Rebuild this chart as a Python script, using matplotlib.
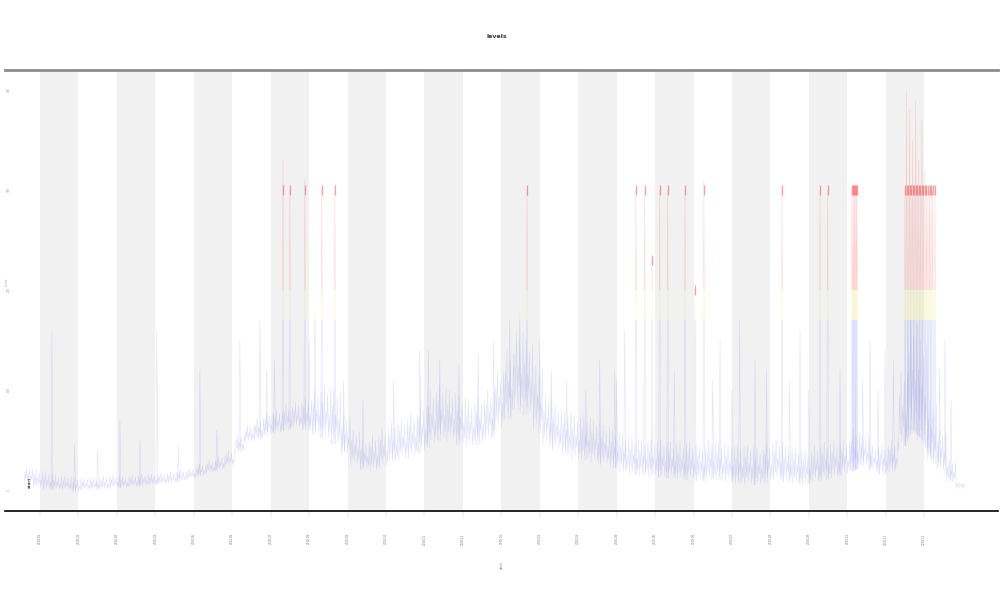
import numpy as np
import matplotlib
matplotlib.use("Agg")
import matplotlib.pyplot as plt
from matplotlib.patches import Rectangle
from matplotlib.collections import LineCollection

# ---------------- data ----------------
title = "levels"
x_label = "date"
y_label = "level"
tick_labels = ["2018-01", "2018-02", "2018-03", "2018-04", "2018-05", "2018-06",
               "2018-07", "2018-08", "2018-09", "2018-10", "2018-11", "2018-12",
               "2019-01", "2019-02", "2019-03", "2019-04", "2019-05", "2019-06",
               "2019-07", "2019-08", "2019-09", "2019-10", "2019-11", "2019-12"]
y_ticks = [0, 100, 200, 300, 400]
start_note = "start"

# envelope of the dense series, one bin every 0.25 tick unit from x = -0.3
bin_start = -0.3
bin_step = 0.25
low = [8, 2, 0, 0, 0, -2, 0, 0, 0, 2, 2, 3, 4, 5, 6, 7, 9, 11, 14, 17,
       20, 24, 38, 48, 50, 55, 57, 60, 62, 60, 55, 50, 45, 35, 25, 20, 18, 22, 28, 30,
       32, 38, 45, 50, 48, 45, 42, 45, 50, 60, 70, 80, 75, 60, 45, 40, 35, 30, 30, 28,
       25, 22, 18, 15, 15, 14, 12, 12, 10, 10, 8, 10, 10, 8, 6, 5, 5, 8, 10, 8,
       6, 5, 8, 10, 12, 15, 20, 25, 18, 15, 18, 40, 60, 50, 30, 20, 8, 2]
high = [22, 20, 18, 15, 14, 12, 12, 12, 14, 15, 14, 15, 16, 16, 17, 18, 20, 22, 26, 30,
        34, 40, 55, 65, 72, 78, 80, 85, 88, 92, 100, 105, 100, 75, 60, 50, 55, 62, 68, 72,
        78, 88, 100, 105, 100, 95, 90, 92, 100, 120, 140, 160, 150, 125, 95, 85, 80, 75, 75, 70,
        65, 60, 55, 52, 50, 50, 50, 48, 48, 48, 45, 50, 48, 45, 45, 45, 42, 48, 50, 45,
        42, 40, 45, 48, 50, 50, 60, 55, 45, 45, 50, 120, 170, 150, 90, 60, 30, 8]

# tall spikes (positions in tick units, peak values)
spike_x = [0.31, 2.08, 3.04, 4.16, 5.20, 5.72, 6.32, 6.50, 6.89, 7.15, 7.33, 7.67,
           9.88, 10.40, 12.22, 12.48, 12.67, 13.00, 14.56, 14.95, 15.21, 15.50, 15.73,
           15.92, 16.12, 16.33, 16.78, 17.04, 17.27, 17.69, 18.20, 18.60, 19.30, 19.77,
           20.29, 20.49, 20.81, 21.12, 21.15, 21.18, 21.20, 21.23, 21.25, 21.59, 21.98,
           22.50, 22.54, 22.58, 22.62, 22.66, 22.70, 22.74, 22.78, 22.82, 22.86, 22.90,
           22.94, 22.98, 23.02, 23.06, 23.10, 23.14, 23.18, 23.22, 23.28, 23.54]
spike_peak = [160, 70, 160, 120, 150, 170, 330, 300, 310, 180, 300, 300,
              140, 130, 170, 180, 300, 150, 130, 120, 160, 300, 300,
              230, 300, 300, 300, 200, 310, 150, 170, 130, 300, 160,
              300, 300, 120, 300, 305, 305, 305, 300, 300, 150, 140,
              300, 400, 300, 380, 300, 350, 300, 390, 300, 330, 300,
              370, 300, 320, 300, 300, 300, 300, 300, 300, 150]

# smaller, fainter spikes seen in the haze
minor_x = [0.9, 1.5, 2.6, 3.6, 4.6, 5.9, 6.1, 7.0, 7.9, 8.4, 9.2, 10.1, 10.9, 11.4,
           11.8, 13.3, 13.7, 14.2, 15.0, 16.5, 17.5, 18.0, 18.9, 19.5, 20.0, 21.4,
           21.8, 22.2, 23.4, 23.7]
minor_peak = [45, 40, 50, 45, 60, 120, 130, 150, 110, 90, 110, 140, 125, 135,
              150, 120, 110, 100, 110, 120, 110, 100, 120, 110, 100, 110,
              100, 130, 120, 90]

# colour thresholds of the series
yellow_from = 170
red_from = 200

# ---------------- drawing ----------------
fig = plt.figure(figsize=(10, 6), dpi=100)
ax = fig.add_axes([0.005, 1 - 511 / 600, 0.993, (511 - 70) / 600])
x_min, x_max = -0.91, 24.92
y_min, y_max = -21, 420
ax.set_xlim(x_min, x_max)
ax.set_ylim(y_min, y_max)

# alternating bands
for k in range(0, len(tick_labels), 2):
    ax.axvspan(k, k + 1, color="#f1f1f1", lw=0, zorder=0)

# dense zig-zag through the envelope
pattern = [0.0, 0.7, 0.2, 1.0, 0.1, 0.55, 0.3, 0.85, 0.05, 0.45, 0.15, 0.95]
lo = np.array(low, float)
hi = np.array(high, float)
bx = bin_start + bin_step * np.arange(len(lo))
xs, ys = [], []
n = len(pattern)
for i in range(len(lo)):
    for j, f in enumerate(pattern):
        xs.append(bx[i] - bin_step / 2 + bin_step * (j + 0.5) / n)
        ys.append(lo[i] + f * (hi[i] - lo[i]))
xs = np.array(xs)
ys = np.array(ys)

segs = [np.column_stack([xs, ys])]
# spikes from the local base
for sx, sp in list(zip(spike_x, spike_peak)) + list(zip(minor_x, minor_peak)):
    base = np.interp(sx, bx, lo)
    segs.append(np.array([[sx - 0.025, base], [sx, sp], [sx + 0.025, base]]))

bands = [("#6666ee", y_min, yellow_from, 0.22),
         ("#e0e040", yellow_from, red_from, 0.25),
         ("#ff3030", red_from, y_max, 0.22)]
for col, y0, y1, a in bands:
    lc = LineCollection(segs, colors=col, linewidths=0.35, alpha=a, zorder=2)
    ax.add_collection(lc)
    clip = Rectangle((x_min, y0), x_max - x_min, y1 - y0, transform=ax.transData)
    lc.set_clip_path(clip)

# peak marks
peak_x = [sx for sx, sp in zip(spike_x, spike_peak) if sp >= red_from]
peak_y = [min(sp, 300) for sp in spike_peak if sp >= red_from]
ax.scatter(peak_x, peak_y, marker="|", s=60, color="#ff1010", alpha=0.4,
           linewidths=0.9, zorder=3)

# axes styling
for s in ["left", "right"]:
    ax.spines[s].set_visible(False)
ax.spines["top"].set_color("#8c8c8c")
ax.spines["top"].set_linewidth(2.0)
ax.spines["bottom"].set_color("#000000")
ax.spines["bottom"].set_linewidth(1.2)

ax.set_xticks(range(len(tick_labels)))
ax.set_xticklabels(tick_labels, rotation=90, fontsize=2.0, color="#777777")
ax.tick_params(axis="x", length=4, width=0.3, color="#cccccc", pad=12)
ax.set_yticks(y_ticks)
ax.set_yticklabels([str(v) for v in y_ticks], rotation=90, fontsize=2.0,
                   color="#999999", va="center")
ax.tick_params(axis="y", length=0, pad=-4)

ax.set_xlabel(x_label, fontsize=2.5, color="#888888", rotation=90, labelpad=12)
ax.text(0.0, 0.52, y_label, transform=ax.transAxes, rotation=90, fontsize=2.5,
        color="#aaaaaa", ha="left", va="center")
ax.text(-0.26, 2, start_note, rotation=90, fontsize=3, color="#444444",
        ha="center", va="bottom", fontweight="bold", zorder=4)

fig.text(0.497, 1 - 37 / 600, title, fontsize=4.5, ha="center", va="center",
         fontweight="bold", color="#333333")

fig.savefig("out.png", dpi=100)
